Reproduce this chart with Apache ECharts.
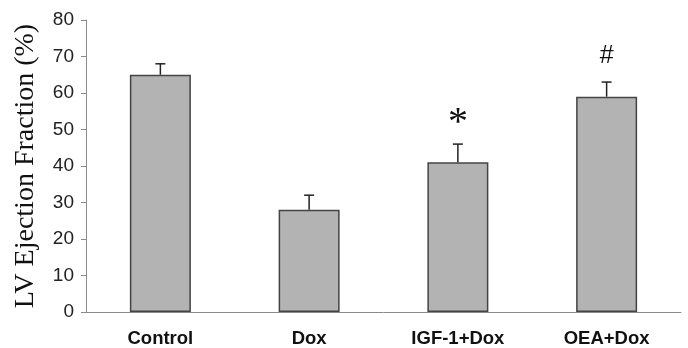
<!DOCTYPE html>
<html>
<head>
<meta charset="utf-8">
<script src="https://cdn.jsdelivr.net/npm/echarts@6/dist/echarts.min.js"></script>
<style>html,body{margin:0;padding:0;background:#fff;}#c{width:688px;height:348px;}</style>
</head>
<body>
<div id="c"></div>
<script>
var categories = ['Control', 'Dox', 'IGF-1+Dox', 'OEA+Dox'];
var values = [65, 28, 41, 59];
var errors = [3, 4, 5, 4];
var marks = ['', '', '*', '#'];
var yTicks = [0, 10, 20, 30, 40, 50, 60, 70, 80];

var chart = echarts.init(document.getElementById('c'), null, {renderer: 'canvas'});
var errData = values.map(function (v, i) { return [i, v, v + errors[i], marks[i]]; });

chart.setOption({
  animation: false,
  backgroundColor: '#ffffff',
  grid: {left: 86, right: 7, top: 20, bottom: 36},
  xAxis: {
    type: 'category',
    data: categories,
    axisLine: {lineStyle: {color: '#8a8a8a', width: 1}},
    axisTick: {show: false},
    axisLabel: {fontFamily: 'Liberation Sans, Arial', fontWeight: 'bold', fontSize: 18.5, color: '#111', margin: 17}
  },
  yAxis: {
    type: 'value',
    min: yTicks[0], max: yTicks[yTicks.length - 1], interval: 10,
    name: 'LV Ejection Fraction (%)',
    nameLocation: 'middle',
    nameGap: 46,
    nameTextStyle: {fontFamily: 'Liberation Serif, Times New Roman', fontSize: 28, color: '#111'},
    axisLine: {show: true, lineStyle: {color: '#8a8a8a', width: 1}},
    axisTick: {show: true, length: 5, lineStyle: {color: '#8a8a8a'}},
    axisLabel: {fontFamily: 'Liberation Sans, Arial', fontSize: 19, color: '#222', margin: 12},
    splitLine: {show: false}
  },
  series: [
    {
      type: 'bar',
      data: values,
      barWidth: 61,
      itemStyle: {color: '#b3b3b3', borderColor: '#444', borderWidth: 1.5}
    },
    {
      type: 'custom',
      data: errData,
      z: 5,
      renderItem: function (params, api) {
        var i = api.value(0);
        var base = api.coord([i, api.value(1)]);
        var top = api.coord([i, api.value(2)]);
        var m = marks[params.dataIndex];
        var children = [
          {type: 'line', shape: {x1: base[0], y1: base[1], x2: top[0], y2: top[1]}, style: {stroke: '#222', lineWidth: 1.5}},
          {type: 'line', shape: {x1: top[0] - 5, y1: top[1], x2: top[0] + 5, y2: top[1]}, style: {stroke: '#222', lineWidth: 1.5}}
        ];
        if (m) {
          var isStar = m === '*';
          children.push({
            type: 'text',
            style: {
              text: m,
              x: top[0],
              y: top[1] - (isStar ? 1 : 13),
              textAlign: 'center',
              textVerticalAlign: 'bottom',
              font: isStar ? '40px "Liberation Serif", serif' : '25px "Liberation Sans", Arial',
              fill: '#111'
            }
          });
        }
        return {type: 'group', children: children};
      }
    }
  ]
});
</script>
</body>
</html>
